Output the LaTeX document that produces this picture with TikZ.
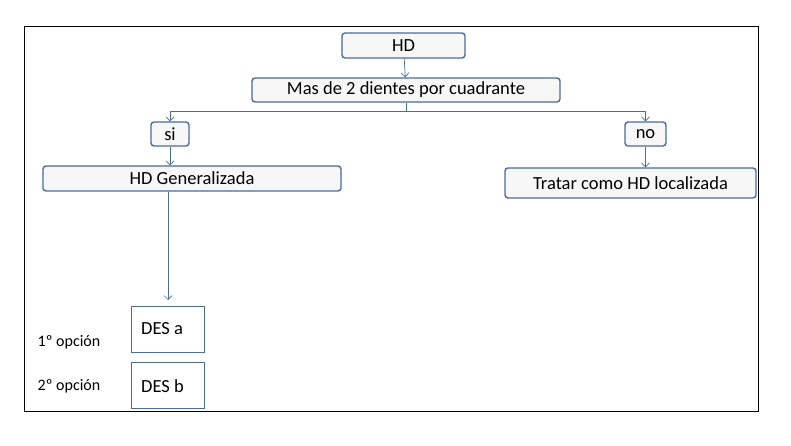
\documentclass[tikz,border=0pt]{standalone}
\usepackage{fontspec}
\setmainfont{Carlito}
\usetikzlibrary{positioning}
\usetikzlibrary{arrows.meta}
\definecolor{boxblue}{RGB}{74,108,160}
\begin{document}
\begin{tikzpicture}
    [%
        x=1pt,y=-1pt,%
        step box/.style={%
            draw=boxblue,%
            line width=1.4pt,%
            rounded corners=3pt,%
            fill=gray!6,%
            inner sep=0pt,%
            font=\fontsize{18.5}{20}\selectfont%
        },%
        option box/.style={%
            step box,%
            rounded corners=0pt,%
            fill=white,%
            minimum width=73pt,%
            minimum height=46pt%
        },%
        link/.style={%
            draw=boxblue,%
            line width=0.7pt%
        },%
        flow/.style={%
            link,%
            -{Straight Barb[length=4pt,width=8pt]}%
        }%
    ]%
%
    \useasboundingbox (0,0) rectangle (791,446);
    \draw[line width=0.6pt] (24,26) rectangle (758,411);
    % decision chain
    \node[step box,minimum width=123pt,minimum height=25pt] (hd) at (403.5,45.5) {HD};
    \node[step box,minimum width=308pt,minimum height=24pt] (mas) at (406,90) {Mas de 2 dientes por cuadrante};
    \node[step box,minimum width=38pt,minimum height=24pt] (si) at (170,134) {si};
    \node[step box,minimum width=41pt,minimum height=24pt] (no) at (645.5,134) {no};
    \node[step box,minimum width=298pt,minimum height=25pt] (gen) at (192,178.5) {HD Generalizada};
    \node[step box,minimum width=251pt,minimum height=30pt] (loc) at (630.5,183) {Tratar como HD localizada};
    % treatment options
    \node[option box,anchor=north west] (desa) at (131,306) {};
    \node[anchor=west,inner sep=0pt,font=\fontsize{18.5}{20}\selectfont] at (141,329) {DES a};
    \node[option box,anchor=north west] (desb) at (131,362) {};
    \node[anchor=west,inner sep=0pt,font=\fontsize{18.5}{20}\selectfont] at (141,386) {DES b};
    \node[font=\fontsize{16}{18}\selectfont] (opta) at (69,342) {1º opción};
    \node[font=\fontsize{16}{18}\selectfont] (optb) at (69,386) {2º opción};
%
    \coordinate (split) at (406,111);
    \coordinate (split-si) at (170,111);
    \coordinate (split-no) at (645.5,111);
    \draw[flow] (hd) -- (mas);
    \draw[link] (mas) -- (split);
    \draw[link] (split-si) -- (split-no);
    \draw[flow] (split-si) -- (si);
    \draw[flow] (split-no) -- (no);
    \draw[flow] (si) -- (si |- gen.north);
    \draw[flow] (no) -- (no |- loc.north);
    \draw[flow] (gen.south -| 168,0) -- (168,300);
\end{tikzpicture}
\end{document}
